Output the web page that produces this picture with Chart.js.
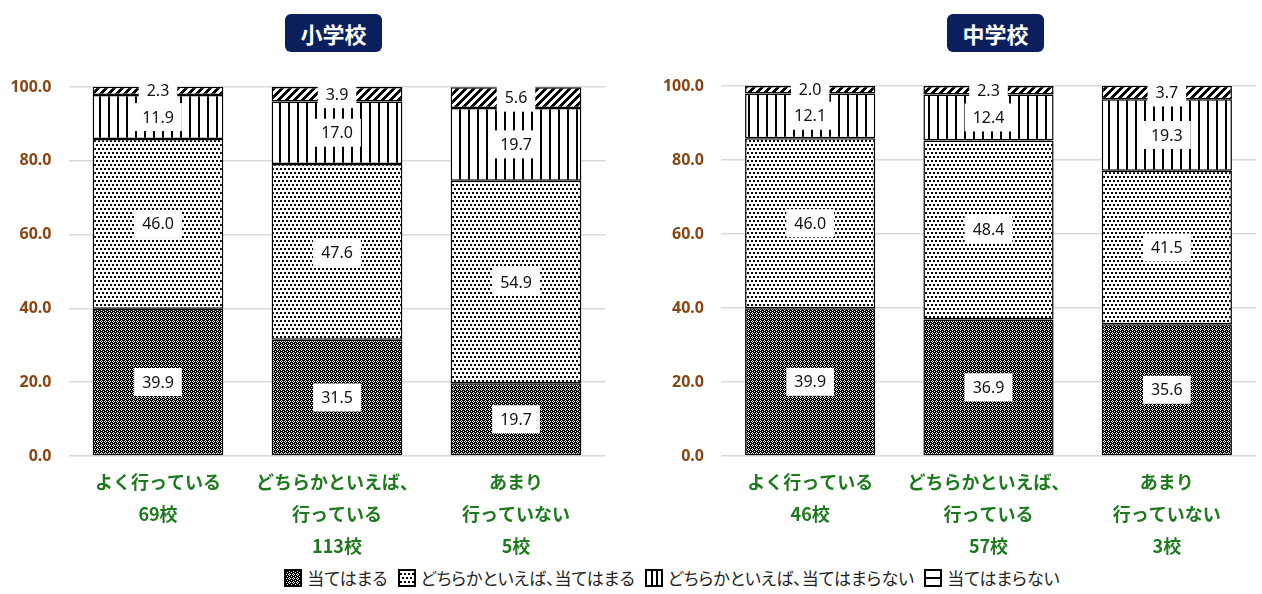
<!DOCTYPE html>
<html lang="ja">
<head>
<meta charset="utf-8">
<script src="https://cdn.jsdelivr.net/npm/chart.js@4.4.1/dist/chart.umd.min.js"></script>
<style>
  html, body { margin: 0; padding: 0; background: #fff; }
  body { width: 1262px; height: 594px; position: relative; overflow: hidden;
         font-family: "Noto Sans CJK JP", "Noto Sans", sans-serif; }
  .box { position: absolute; width: 631px; height: 560px; top: 0; }
  .title { position: absolute; top: 14px; height: 38px; width: 97px; background: #0b1f5c;
           border-radius: 6px; color: #fff; font-weight: bold; font-size: 22px;
           line-height: 38px; text-align: center; }
  #legend { position: absolute; top: 565px; left: 41px; width: 1262px; text-align: center;
            font-size: 17px; line-height: 26px; color: #222; white-space: nowrap;
            font-feature-settings: "palt"; }
  #legend span.item { display: inline-flex; align-items: center; margin: 0 5px; }
  #legend canvas { margin-right: 5px; }
</style>
</head>
<body>
<div class="box" style="left:0"><canvas id="elem" width="631" height="560"></canvas></div>
<div class="box" style="left:631px"><canvas id="junior" width="631" height="560"></canvas></div>
<div class="title" style="left:285px">小学校</div>
<div class="title" style="left:947px">中学校</div>
<div id="legend"></div>

<script>
// categories
const elemLabels = [['よく行っている', '69校'], ['どちらかといえば、', '行っている', '113校'], ['あまり', '行っていない', '5校']];
const juniorLabels = [['よく行っている', '46校'], ['どちらかといえば、', '行っている', '57校'], ['あまり', '行っていない', '3校']];
const seriesNames = ['当てはまる', 'どちらかといえば、当てはまる', 'どちらかといえば、当てはまらない', '当てはまらない'];

// 小学校
const elemYes = [39.9, 31.5, 19.7];
const elemRatherYes = [46.0, 47.6, 54.9];
const elemRatherNo = [11.9, 17.0, 19.7];
const elemNo = [2.3, 3.9, 5.6];

// 中学校
const juniorYes = [39.9, 36.9, 35.6];
const juniorRatherYes = [46.0, 48.4, 41.5];
const juniorRatherNo = [12.1, 12.4, 19.3];
const juniorNo = [2.0, 2.3, 3.7];

const yTicks = [0, 20, 40, 60, 80, 100];

// small tiles used as fill patterns
function makeTile(w, h, draw) {
    const c = document.createElement('canvas');
    c.width = w; c.height = h;
    const g = c.getContext('2d');
    draw(g);
    return c;
}

const tiles = [
    // dark checker
    makeTile(4, 4, g => {
        g.fillStyle = '#000'; g.fillRect(0, 0, 4, 4);
        g.fillStyle = '#fff';
        [[1, 0], [0, 1], [2, 1], [1, 2], [3, 3]].forEach(p => g.fillRect(p[0], p[1], 1, 1));
    }),
    // light dots
    makeTile(4, 8, g => {
        g.fillStyle = '#fff'; g.fillRect(0, 0, 4, 8);
        g.fillStyle = '#000';
        g.fillRect(0, 0, 2, 2); g.fillRect(2, 4, 2, 2);
    }),
    // vertical lines
    makeTile(9, 1, g => {
        g.fillStyle = '#fff'; g.fillRect(0, 0, 9, 1);
        g.fillStyle = '#000'; g.fillRect(0, 0, 2, 1);
    }),
    // diagonal hatch
    makeTile(8, 8, g => {
        g.fillStyle = '#fff'; g.fillRect(0, 0, 8, 8);
        g.fillStyle = '#000';
        for (let y = 0; y < 8; y++)
            for (let x = 0; x < 8; x++)
                if ((x + y) % 8 < 4) g.fillRect(x, y, 1, 1);
    })
];

function patterns(ctx) {
    return tiles.map(t => ctx.createPattern(t, 'repeat'));
}

// white boxed value labels in the middle of each segment
const boxLabels = {
    id: 'boxLabels',
    afterDatasetsDraw(chart) {
        const ctx = chart.ctx;
        ctx.save();
        ctx.font = '16px "Noto Sans"';
        ctx.textAlign = 'center';
        ctx.textBaseline = 'middle';
        chart.data.datasets.forEach((ds, i) => {
            chart.getDatasetMeta(i).data.forEach((bar, j) => {
                const txt = ds.data[j].toFixed(1);
                const y = (bar.y + bar.base) / 2;
                const w = ctx.measureText(txt).width + 16;
                ctx.fillStyle = '#fff';
                ctx.fillRect(bar.x - w / 2, y - 14, w, 28);
                ctx.fillStyle = '#111';
                ctx.fillText(txt, bar.x, y + 1);
            });
        });
        ctx.restore();
    }
};

function makeChart(id, labels, series, yWidth, padRight, padTop) {
    const canvas = document.getElementById(id);
    const pats = patterns(canvas.getContext('2d'));
    new Chart(canvas, {
        type: 'bar',
        data: {
            labels: labels,
            datasets: series.map((d, i) => ({
                label: seriesNames[i],
                data: d,
                backgroundColor: pats[i],
                borderColor: '#000',
                borderWidth: 1.5,
                borderSkipped: false,
                categoryPercentage: 1,
                barPercentage: 0.73
            }))
        },
        options: {
            responsive: false,
            animation: false,
            layout: { padding: { top: padTop, right: padRight, left: 0, bottom: 0 } },
            plugins: { legend: { display: false }, tooltip: { enabled: false } },
            scales: {
                x: {
                    stacked: true,
                    grid: { display: false },
                    border: { display: false },
                    ticks: {
                        color: '#1e7a1e', autoSkip: false, maxRotation: 0, padding: 2,
                        font: { family: '"Noto Sans CJK JP"', size: 18, weight: 'bold', lineHeight: 1.78 }
                    },
                    afterFit(s) { s.height = 104; }
                },
                y: {
                    stacked: true, min: 0, max: 100,
                    afterBuildTicks(s) { s.ticks = yTicks.map(v => ({ value: v })); },
                    ticks: {
                        color: '#8b4513', padding: 17,
                        font: { family: '"Noto Sans"', size: 16, weight: 'bold' },
                        callback: v => v.toFixed(1)
                    },
                    grid: { color: '#d9d9d9', lineWidth: 1.5, drawTicks: false },
                    border: { display: false },
                    afterFit(s) { s.width = yWidth; }
                }
            }
        },
        plugins: [boxLabels]
    });
}

makeChart('elem', elemLabels, [elemYes, elemRatherYes, elemRatherNo, elemNo], 68.5, 25.5, 87);
makeChart('junior', juniorLabels, [juniorYes, juniorRatherYes, juniorRatherNo, juniorNo], 90, 6, 86);

// legend shared by both charts
const legendSwatches = [
    g => { g.fillStyle = g.createPattern(tiles[0], 'repeat'); g.fillRect(0, 0, 18, 18); },
    g => { g.fillStyle = g.createPattern(tiles[1], 'repeat'); g.fillRect(0, 0, 18, 18); },
    g => { g.fillStyle = '#fff'; g.fillRect(0, 0, 18, 18); g.fillStyle = '#000';
           g.fillRect(6, 0, 2, 18); g.fillRect(11, 0, 2, 18); },
    g => { g.fillStyle = '#fff'; g.fillRect(0, 0, 18, 18); g.fillStyle = '#000';
           g.fillRect(0, 8, 18, 2); }
];
const legend = document.getElementById('legend');
seriesNames.forEach((name, i) => {
    const item = document.createElement('span');
    item.className = 'item';
    const c = document.createElement('canvas');
    c.width = 18; c.height = 18;
    const g = c.getContext('2d');
    legendSwatches[i](g);
    g.strokeStyle = '#000'; g.lineWidth = 2; g.strokeRect(1, 1, 16, 16);
    item.appendChild(c);
    item.appendChild(document.createTextNode(name));
    legend.appendChild(item);
});
</script>
</body>
</html>
